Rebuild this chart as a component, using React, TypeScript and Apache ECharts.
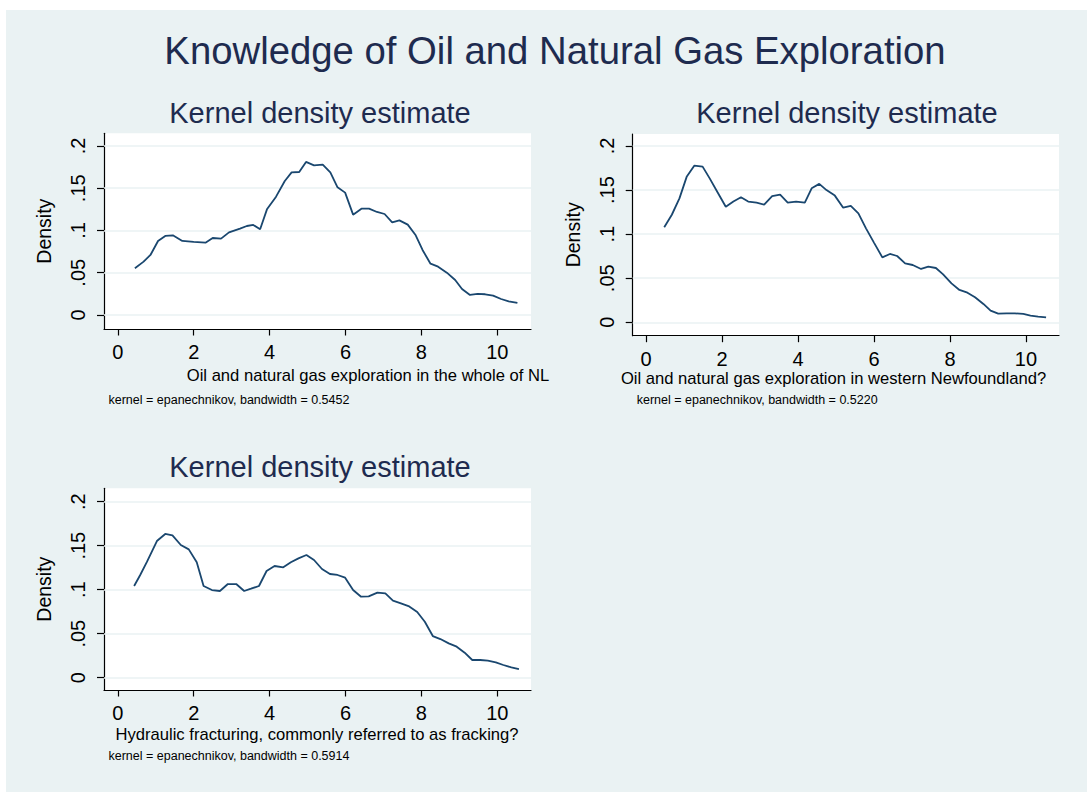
import React, { useEffect, useRef } from "react";
import * as echarts from "echarts";

const mainTitle = "Knowledge of Oil and Natural Gas Exploration";
const panelTitle = "Kernel density estimate";
const yAxisTitle = "Density";
const xTitles = [
  "Oil and natural gas exploration in the whole of NL",
  "Oil and natural gas exploration in western Newfoundland?",
  "Hydraulic fracturing, commonly referred to as fracking?",
];
const notes = [
  "kernel = epanechnikov, bandwidth = 0.5452",
  "kernel = epanechnikov, bandwidth = 0.5220",
  "kernel = epanechnikov, bandwidth = 0.5914",
];
const xTicks = [0, 2, 4, 6, 8, 10];
const xTickLabels = ["0", "2", "4", "6", "8", "10"];
const yTicks = [0, 0.05, 0.1, 0.15, 0.2];
const yTickLabels = ["0", ".05", ".1", ".15", ".2"];

// Panel 1: whole of NL
const wholeX = [0.45, 0.68, 0.86, 1.06, 1.25, 1.45, 1.7, 2.0, 2.31, 2.5, 2.72, 2.93, 3.22, 3.4, 3.57, 3.75, 3.93, 4.17, 4.4, 4.58, 4.78, 4.96, 5.17, 5.4, 5.6, 5.79, 5.99, 6.2, 6.42, 6.62, 6.83, 7.03, 7.23, 7.42, 7.64, 7.85, 8.03, 8.24, 8.44, 8.67, 8.89, 9.07, 9.28, 9.48, 9.68, 9.89, 10.1, 10.3, 10.53];
const wholeY = [0.0552, 0.0631, 0.071, 0.0876, 0.0935, 0.0943, 0.0876, 0.0864, 0.0856, 0.0911, 0.0903, 0.0978, 0.1022, 0.1053, 0.1065, 0.1014, 0.125, 0.14, 0.1586, 0.1688, 0.1692, 0.1811, 0.1771, 0.1779, 0.1688, 0.1511, 0.1448, 0.1187, 0.1258, 0.1258, 0.1219, 0.1195, 0.1097, 0.112, 0.1069, 0.0943, 0.0769, 0.0607, 0.0572, 0.0501, 0.0414, 0.0308, 0.0237, 0.0249, 0.0245, 0.0229, 0.0189, 0.0162, 0.0142];

// Panel 2: western Newfoundland
const westX = [0.48, 0.68, 0.88, 1.07, 1.27, 1.49, 1.68, 1.89, 2.1, 2.3, 2.5, 2.69, 2.91, 3.11, 3.32, 3.53, 3.73, 3.95, 4.18, 4.36, 4.56, 4.75, 4.97, 5.19, 5.39, 5.59, 5.79, 6.0, 6.22, 6.42, 6.61, 6.82, 7.02, 7.24, 7.43, 7.63, 7.82, 8.04, 8.25, 8.46, 8.66, 8.88, 9.07, 9.27, 9.49, 9.71, 9.93, 10.12, 10.32, 10.53];
const westY = [0.1078, 0.122, 0.1406, 0.165, 0.1777, 0.1766, 0.163, 0.147, 0.131, 0.137, 0.1418, 0.137, 0.1357, 0.1335, 0.143, 0.1448, 0.1357, 0.137, 0.1357, 0.152, 0.157, 0.15, 0.1437, 0.13, 0.132, 0.1236, 0.1066, 0.0904, 0.0737, 0.0775, 0.0752, 0.0669, 0.065, 0.0605, 0.0631, 0.0616, 0.0544, 0.0442, 0.0367, 0.0336, 0.0284, 0.0208, 0.0132, 0.0098, 0.0102, 0.0102, 0.0095, 0.0076, 0.0064, 0.0057];

// Panel 3: hydraulic fracturing
const frackX = [0.43, 0.59, 0.77, 1.03, 1.25, 1.44, 1.66, 1.87, 2.08, 2.26, 2.48, 2.69, 2.9, 3.12, 3.33, 3.51, 3.72, 3.92, 4.13, 4.36, 4.56, 4.76, 4.97, 5.17, 5.38, 5.59, 5.79, 5.99, 6.2, 6.41, 6.61, 6.84, 7.05, 7.25, 7.46, 7.66, 7.89, 8.09, 8.3, 8.5, 8.72, 8.93, 9.14, 9.34, 9.55, 9.75, 9.96, 10.16, 10.37, 10.57];
const frackY = [0.1042, 0.1167, 0.1318, 0.1553, 0.1633, 0.1617, 0.1508, 0.1458, 0.1311, 0.1042, 0.0996, 0.0985, 0.1064, 0.1064, 0.0985, 0.1011, 0.1042, 0.1212, 0.1269, 0.1254, 0.1311, 0.1356, 0.1394, 0.1337, 0.1235, 0.1178, 0.1167, 0.1136, 0.0996, 0.092, 0.0924, 0.0966, 0.0958, 0.0875, 0.0845, 0.0814, 0.0746, 0.0636, 0.0473, 0.0439, 0.039, 0.0352, 0.0284, 0.0201, 0.0201, 0.0193, 0.0174, 0.0144, 0.0117, 0.0098];

const seriesX = [wholeX, westX, frackX];
const seriesY = [wholeY, westY, frackY];

// layout (pixels) and axis ranges
const layout = [
  { grid: { left: 104, top: 133.3, width: 427, height: 195.7 }, xr: [-0.364, 10.888], yr: [-0.0166, 0.215], title: [320, 112.5], xt: [368, 375], note: [108.5, 400] },
  { grid: { left: 632.7, top: 134, width: 426.3, height: 201.7 }, xr: [-0.35, 10.87], yr: [-0.0152, 0.2136], title: [847, 112.5], xt: [833.5, 378], note: [636.7, 400] },
  { grid: { left: 104, top: 488.3, width: 427, height: 201.7 }, xr: [-0.364, 10.888], yr: [-0.014, 0.2152], title: [320, 467], xt: [317, 734], note: [108.5, 756] },
];

const FONT = "'Liberation Sans', Arial, Helvetica, sans-serif";
const NAVY = "#1E2B4F";
const LINE = "#1A476F";
const BG = "#EAF2F3";

function txt(text: string, x: number, y: number, size: number, color: string, align: string) {
  return {
    type: "text",
    x,
    y,
    silent: true,
    style: {
      text,
      fontSize: size,
      fontFamily: FONT,
      fill: color,
      align,
      verticalAlign: "middle",
      textAlign: align,
      textVerticalAlign: "middle",
    },
  };
}

export default function App() {
  const ref = useRef<HTMLDivElement>(null);
  useEffect(() => {
    document.body.style.margin = "0";
    const chart = echarts.init(ref.current as HTMLDivElement, undefined, { renderer: "svg", width: 1087, height: 792 });

    const graphics: any[] = [txt(mainTitle, 555, 50, 38.3, NAVY, "center")];
    layout.forEach((p, i) => {
      graphics.push(txt(panelTitle, p.title[0], p.title[1], 29, NAVY, "center"));
      graphics.push(txt(xTitles[i], p.xt[0], p.xt[1], 16.6, "#000", "center"));
      graphics.push(txt(notes[i], p.note[0], p.note[1], 12.5, "#000", "left"));
    });

    const option: any = {
      animation: false,
      textStyle: { fontFamily: FONT },
      grid: layout.map((p) => ({ ...p.grid, show: true, backgroundColor: "#fff", borderWidth: 0, containLabel: false })),
      xAxis: layout.map((p, i) => ({
        type: "value",
        gridIndex: i,
        min: p.xr[0],
        max: p.xr[1],
        axisLine: { show: true, onZero: false, lineStyle: { color: "#000", width: 1.2 } },
        axisTick: { show: true, length: 6.5, customValues: xTicks, lineStyle: { color: "#000", width: 1.2 } },
        axisLabel: {
          show: true,
          customValues: xTicks,
          margin: 13,
          fontSize: 20,
          color: "#000",
          fontFamily: FONT,
          formatter: (v: number) => {
            const k = xTicks.findIndex((t) => Math.abs(t - v) < 1e-9);
            return k >= 0 ? xTickLabels[k] : "";
          },
        },
        splitLine: { show: false },
      })),
      yAxis: layout.map((p, i) => ({
        type: "value",
        gridIndex: i,
        min: p.yr[0],
        max: p.yr[1],
        name: yAxisTitle,
        nameLocation: "middle",
        nameRotate: 90,
        nameGap: 50,
        nameTextStyle: { fontSize: 19.5, color: "#000", fontFamily: FONT },
        axisLine: { show: true, onZero: false, lineStyle: { color: "#000", width: 1.2 } },
        axisTick: { show: true, length: 7, customValues: yTicks, lineStyle: { color: "#000", width: 1.2 } },
        axisLabel: {
          show: true,
          customValues: yTicks,
          rotate: 90,
          margin: 16,
          fontSize: 20,
          color: "#000",
          fontFamily: FONT,
          formatter: (v: number) => {
            const k = yTicks.findIndex((t) => Math.abs(t - v) < 1e-9);
            return k >= 0 ? yTickLabels[k] : "";
          },
        },
        splitLine: { show: false },
      })),
      series: layout.map((p, i) => ({
        type: "line",
        xAxisIndex: i,
        yAxisIndex: i,
        z: 10,
        symbol: "none",
        showSymbol: false,
        smooth: false,
        lineStyle: { color: LINE, width: 1.8 },
        itemStyle: { color: LINE },
        data: seriesX[i].map((x, j) => [x, seriesY[i][j]]),
        markLine: {
          silent: true,
          symbol: ["none", "none"],
          label: { show: false },
          lineStyle: { color: BG, width: 1.5, type: "solid" },
          emphasis: { disabled: true },
          data: yTicks.map((t) => ({ yAxis: t })),
        },
      })),
      graphic: graphics,
    };
    chart.setOption(option);
    return () => chart.dispose();
  }, []);

  return (
    <div style={{ position: "fixed", left: 0, top: 0, width: 1087, height: 792, background: "#fff", overflow: "hidden" }}>
      <div style={{ position: "absolute", left: 6, top: 10, width: 1081, height: 782, background: BG }} />
      <div ref={ref} style={{ position: "absolute", left: 0, top: 0, width: 1087, height: 792 }} />
    </div>
  );
}
